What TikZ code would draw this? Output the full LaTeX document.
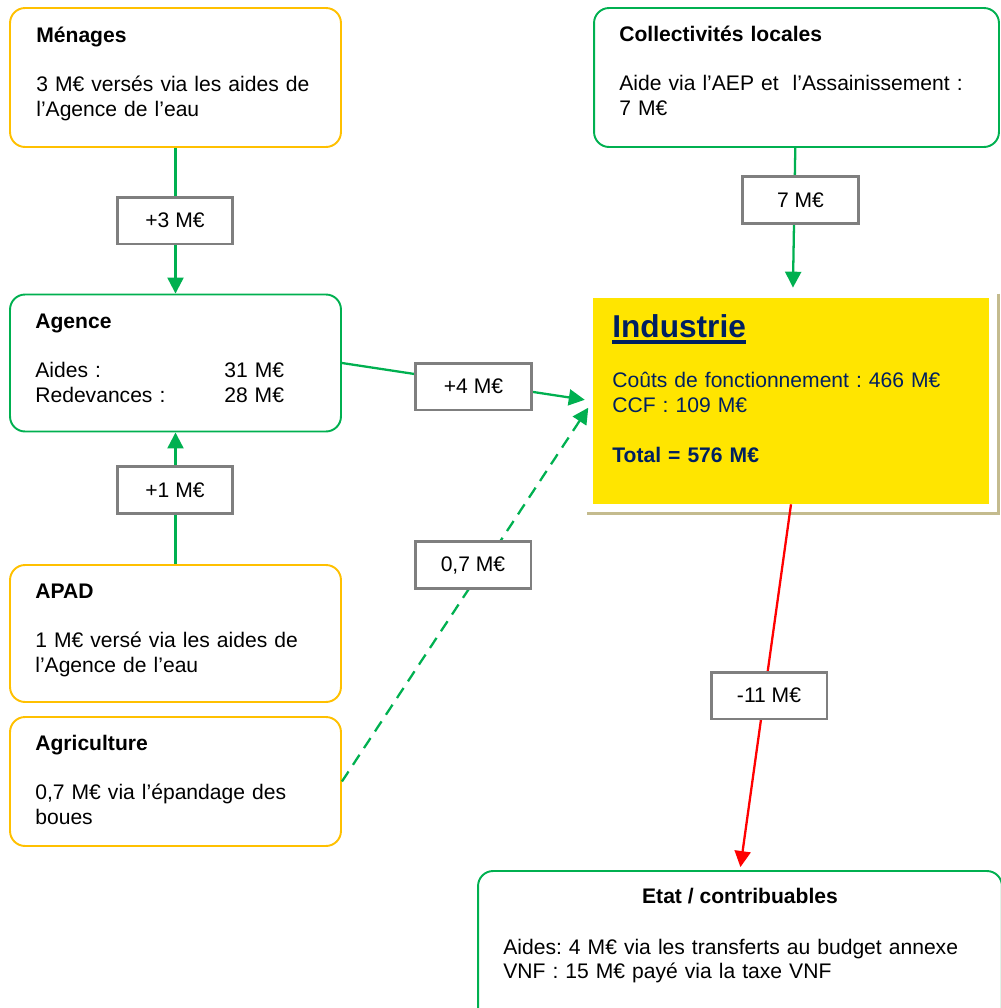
\documentclass[tikz,border=0pt]{standalone}
\usepackage{fontspec}
\setmainfont{Liberation Sans}
\usetikzlibrary{positioning,arrows.meta,calc}
\definecolor{flowgreen}{HTML}{00B050}
\definecolor{boxorange}{HTML}{FFC000}
\definecolor{taggrey}{HTML}{7F7F7F}
\definecolor{indyellow}{HTML}{FFE500}
\definecolor{navy}{HTML}{002060}
\definecolor{shadowtan}{HTML}{C4BB8E}
\newcommand{\thickul}[1]{{\sbox0{#1}\rlap{\raisebox{-4pt}{\rule{\wd0}{2.3pt}}}\usebox0}}
\frenchspacing

\begin{document}
\begin{tikzpicture}[x=0.02cm, y=-0.02cm,
  orangebox/.style={draw=boxorange, line width=1.1pt, rounded corners=0.3cm},
  greenbox/.style={draw=flowgreen, line width=1.1pt, rounded corners=0.3cm},
  txt/.style={anchor=base west, inner sep=0pt, align=left, text width=8cm, font=\fontsize{12}{14.2}\selectfont},
  tag/.style={draw=taggrey, line width=1.7pt, fill=white, minimum width=2.32cm, minimum height=0.94cm, font=\fontsize{12}{14.2}\selectfont},
  flow/.style={draw=flowgreen, line width=1.3pt, -{Triangle[length=0.32cm,width=0.32cm]}},
  loss/.style={flow, draw=red}]
\useasboundingbox (0,0) rectangle (1001,1008);
% boxes
\node[orangebox, minimum width=6.62cm, minimum height=2.78cm] (menages) at (175.5,77.5) {};
\node[greenbox, minimum width=6.62cm, minimum height=2.74cm] (agence) at (175.5,363) {};
\node[orangebox, minimum width=6.62cm, minimum height=2.74cm] (apad) at (175.5,633.5) {};
\node[orangebox, minimum width=6.62cm, minimum height=2.58cm] (agri) at (175.5,781.5) {};
\node[greenbox, minimum width=8.10cm, minimum height=2.78cm] (collect) at (796.5,77.5) {};
\node[fill=indyellow, minimum width=7.92cm, minimum height=4.12cm] (industrie) at (791,401) {};
\draw[draw=shadowtan, line width=2pt] ($(industrie.north east)+(9,-4)$) |- ($(industrie.south west)+(-6,9)$);
\node[greenbox, minimum width=10.48cm, minimum height=3.38cm] (etat) at (740,955.5) {};
% texts
\node[txt] (menages-t) at (36,42) {\textbf{Ménages}\\[14.2pt] 3 M€ versés via les aides de\\ l’Agence de l’eau};
\node[txt] (agence-t) at (35,328) {\textbf{Agence}\\[14.2pt] \makebox[3.78cm][l]{Aides :}31 M€\\ \makebox[3.78cm][l]{Redevances :}28 M€};
\node[txt] (apad-t) at (35,598) {\textbf{APAD}\\[14.2pt] 1 M€ versé via les aides de\\ l’Agence de l’eau};
\node[txt] (agri-t) at (35,750) {\textbf{Agriculture}\\[14.2pt] 0,7 M€ via l’épandage des\\ boues};
\node[txt] (collect-t) at (619,41) {\textbf{Collectivités locales}\\[14.2pt] Aide via l’AEP et\ \ l’Assainissement :\\ 7 M€};
\node[txt, text=navy] (industrie-t) at (612,337) {{\fontsize{18}{21}\selectfont\bfseries\thickul{Industrie}}\\[14.8pt] Coûts de fonctionnement : 466 M€\\ CCF : 109 M€\\[14.2pt] \textbf{Total = 576 M€}};
\node[anchor=base, inner sep=0pt, font=\fontsize{12}{14.2}\selectfont\bfseries] (etat-h) at (740,903) {Etat / contribuables};
\node[txt, text width=9.5cm] (etat-t) at (503,954) {Aides: 4 M€ via les transferts au budget annexe\\ VNF : 15 M€ payé via la taxe VNF};
% flows
\draw[flow] (menages) -- (agence);
\draw[flow] (apad) -- (agence);
\draw[flow, shorten >=0.2cm] (collect) -- (industrie);
\draw[flow, shorten >=0.16cm] (agence.east) -- (industrie.west);
\draw[flow, dash pattern=on 0.24cm off 0.16cm, shorten >=0.16cm] (agri.east) -- (industrie.west);
\draw[loss, shorten >=0.06cm] (industrie.south) -- (etat.north);
% amounts
\node[tag] (tag-menages) at (175,220.5) {+3 M€};
\node[tag] (tag-apad) at (175,490) {+1 M€};
\node[tag] (tag-collect) at (800.5,200) {7 M€};
\node[tag] (tag-agence) at (473.5,386.5) {+4 M€};
\node[tag] (tag-agri) at (473,565) {0,7 M€};
\node[tag] (tag-etat) at (769,695.5) {-11 M€};
\end{tikzpicture}
\end{document}
